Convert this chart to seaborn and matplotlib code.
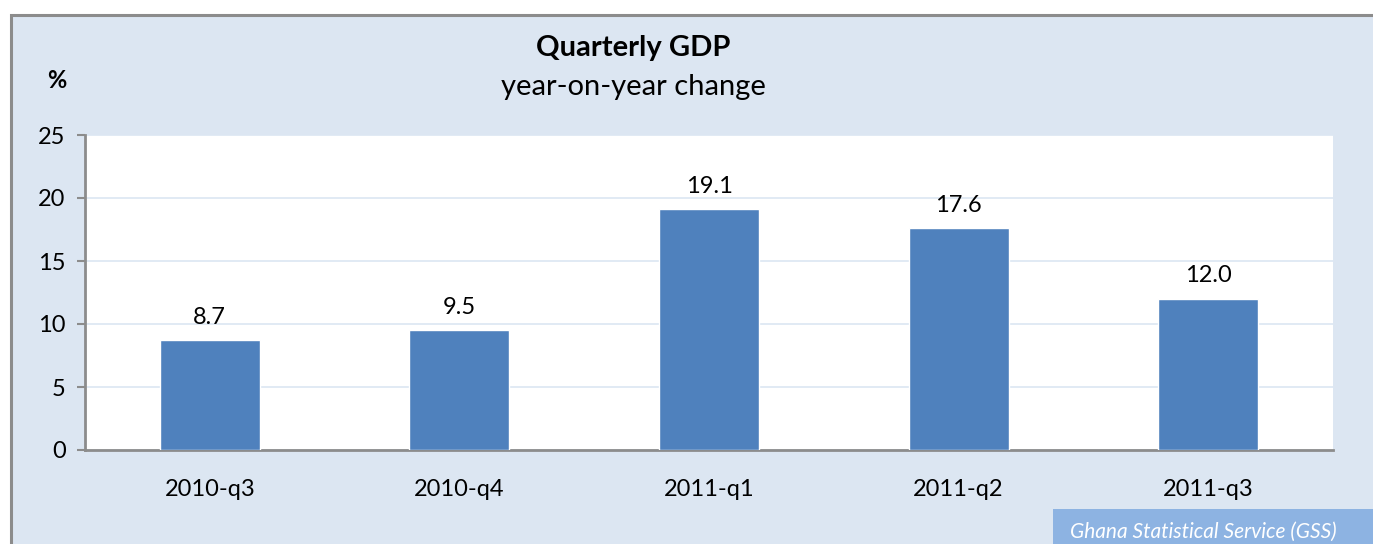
import matplotlib
matplotlib.use("Agg")
import matplotlib.pyplot as plt
import matplotlib.patches as mpatches
import seaborn as sns
import pandas as pd

quarters = ["2010-q3", "2010-q4", "2011-q1", "2011-q2", "2011-q3"]
growth = [8.7, 9.5, 19.1, 17.6, 12.0]
yticks = [0, 5, 10, 15, 20, 25]

df = pd.DataFrame({"quarter": quarters, "growth": growth})

sns.set_style("white")
plt.rcParams["font.family"] = ["Lato", "DejaVu Sans"]
plt.rcParams["text.color"] = "black"
plt.rcParams["xtick.color"] = "black"
plt.rcParams["ytick.color"] = "black"

W, H = 1373, 544
fig = plt.figure(figsize=(W / 100, H / 100), dpi=100)
fig.patch.set_facecolor("white")

# light blue panel with grey border on top and left
panel = mpatches.Rectangle((11 / W, -0.1), 1.2, (H - 15) / H + 0.1,
                           transform=fig.transFigure, facecolor="#DCE6F2",
                           edgecolor="#8C8C8C", linewidth=2.2, zorder=0)
fig.patches.append(panel)

ax = fig.add_axes([85 / W, 1 - 450 / H, 1248 / W, 315 / H])
ax.set_facecolor("white")
ax.set_zorder(1)

sns.barplot(data=df, x="quarter", y="growth", color="#4F81BD", width=0.4,
            saturation=1, ax=ax, zorder=3)

ax.set_ylim(0, 25)
ax.set_yticks(yticks)
ax.yaxis.grid(True, color="#DCE6F2", linewidth=1.2, zorder=0)
ax.set_axisbelow(True)

for s in ["top", "right"]:
    ax.spines[s].set_visible(False)
for s in ["left", "bottom"]:
    ax.spines[s].set_color("#8C8C8C")
    ax.spines[s].set_linewidth(2)

ax.tick_params(axis="y", length=6, width=1.5, color="#8C8C8C",
               labelcolor="black", labelsize=17, pad=8, left=True)
ax.tick_params(axis="x", length=0, labelcolor="black", labelsize=17,
               pad=21)
ax.set_xlabel("")
ax.set_ylabel("")

for i, v in enumerate(growth):
    ax.text(i, v + 1.0, f"{v:.1f}", ha="center", va="bottom", fontsize=17)

fig.text(633 / W, 1 - 48 / H, "Quarterly GDP", ha="center", va="center",
         fontsize=21, fontweight="bold")
fig.text(633 / W, 1 - 87 / H, "year-on-year change", ha="center",
         va="center", fontsize=21)
fig.text(57 / W, 1 - 80 / H, "%", ha="center", va="center", fontsize=17,
         fontweight="bold")

# source box
src = mpatches.Rectangle((1053 / W, 0), 1 - 1053 / W, 35 / H,
                         transform=fig.transFigure, facecolor="#8DB3E2",
                         edgecolor="none", zorder=2)
fig.patches.append(src)
fig.text(1203 / W, 1 - 532 / H, "Ghana Statistical Service (GSS)",
         ha="center", va="center", fontsize=15, style="italic",
         color="white", zorder=3)

fig.savefig("out.png", dpi=100)
